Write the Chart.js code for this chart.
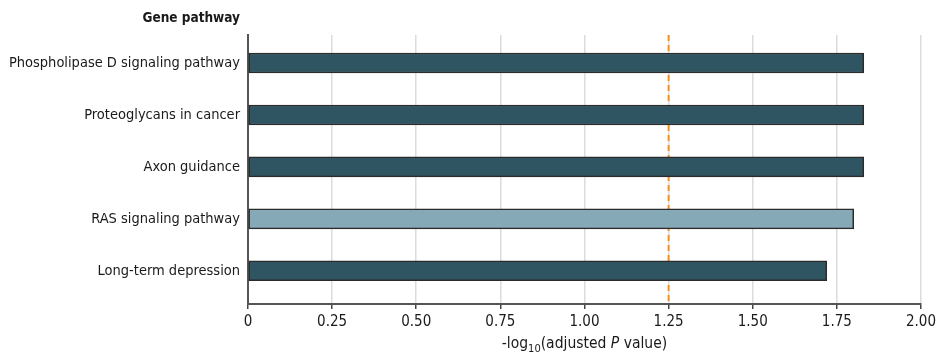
<!DOCTYPE html>
<html>
<head>
<meta charset="utf-8">
<script src="https://cdn.jsdelivr.net/npm/chart.js@4/dist/chart.umd.min.js"></script>
<style>
  html, body { margin: 0; padding: 0; background: #fff; }
  #wrap { width: 940px; height: 357px; position: relative; }
</style>
</head>
<body>
<div id="wrap"><canvas id="chart"></canvas></div>
<script>
// pathways, top to bottom
const pathways = [
    'Phospholipase D signaling pathway',
    'Proteoglycans in cancer',
    'Axon guidance',
    'RAS signaling pathway',
    'Long-term depression'
];
const negLogP = [1.83, 1.83, 1.83, 1.80, 1.72];
const highlighted = [false, false, false, true, false];
const xTicks = [0, 0.25, 0.5, 0.75, 1.0, 1.25, 1.5, 1.75, 2.0];
const threshold = 1.25;   // significance cutoff, dashed line

const FONT = "'Liberation Sans Narrow', 'DejaVu Sans Condensed', 'Liberation Sans', sans-serif";
const DARK = '#2f5462';
const LIGHT = '#86a9b8';

// "Gene pathway" header, right aligned with the category labels
const headerPlugin = {
    id: 'header',
    afterDraw(chart) {
        const { ctx } = chart;
        const y = chart.scales.y;
        ctx.save();
        ctx.font = `bold 13.5px ${FONT}`;
        ctx.fillStyle = '#1a1a1a';
        ctx.textAlign = 'right';
        ctx.textBaseline = 'middle';
        ctx.fillText('Gene pathway', y.right - 8, 18);
        ctx.restore();
    }
};

// dashed threshold line
const thresholdPlugin = {
    id: 'threshold',
    beforeDatasetsDraw(chart) {
        const { ctx, chartArea } = chart;
        const px = chart.scales.x.getPixelForValue(threshold);
        ctx.save();
        ctx.strokeStyle = '#f5921e';
        ctx.lineWidth = 2;
        ctx.setLineDash([6, 4]);
        ctx.beginPath();
        ctx.moveTo(px, chartArea.top);
        ctx.lineTo(px, chartArea.bottom);
        ctx.stroke();
        ctx.restore();
    }
};

// x axis title with subscript and italic P
const xTitlePlugin = {
    id: 'xTitle',
    afterDraw(chart) {
        const { ctx } = chart;
        const x = chart.scales.x;
        const parts = [
            { t: '-log', f: `15.5px ${FONT}`, dy: 0 },
            { t: '10', f: `11px ${FONT}`, dy: 4 },
            { t: '(adjusted ', f: `15.5px ${FONT}`, dy: 0 },
            { t: 'P', f: `italic 15.5px ${FONT}`, dy: 0 },
            { t: ' value)', f: `15.5px ${FONT}`, dy: 0 }
        ];
        ctx.save();
        let total = 0;
        parts.forEach(p => { ctx.font = p.f; total += ctx.measureText(p.t).width; });
        let cx = (x.left + x.right) / 2 - total / 2;
        const baseY = 348;
        ctx.fillStyle = '#1a1a1a';
        ctx.textBaseline = 'alphabetic';
        parts.forEach(p => {
            ctx.font = p.f;
            ctx.fillText(p.t, cx, baseY + p.dy);
            cx += ctx.measureText(p.t).width;
        });
        ctx.restore();
    }
};

new Chart(document.getElementById('chart'), {
    type: 'bar',
    data: {
        datasets: [{
            data: negLogP.map((v, i) => ({ x: v, y: i })),
            backgroundColor: highlighted.map(h => h ? LIGHT : DARK),
            borderColor: '#2b2b2b',
            borderWidth: 1.5,
            borderSkipped: false,
            barThickness: 20
        }]
    },
    options: {
        indexAxis: 'y',
        responsive: true,
        maintainAspectRatio: false,
        animation: false,
        layout: { padding: { top: 35, right: 18, left: 0, bottom: 0 } },
        plugins: {
            legend: { display: false },
            tooltip: { enabled: false }
        },
        scales: {
            x: {
                type: 'linear',
                min: 0,
                max: 2,
                afterBuildTicks: s => { s.ticks = xTicks.map(v => ({ value: v })); },
                afterFit: s => { s.height = 53; },
                ticks: {
                    color: '#1a1a1a',
                    font: { family: FONT, size: 15 },
                    padding: 4,
                    maxRotation: 0,
                    callback: v => v === 0 ? '0' : v.toFixed(2)
                },
                grid: {
                    color: '#dcdcdc',
                    lineWidth: 1.5,
                    tickColor: '#444',
                    tickLength: 5
                },
                border: { display: true, color: '#555', width: 2 }
            },
            y: {
                type: 'linear',
                bounds: 'data',
                offset: false,
                reverse: true,
                min: -0.54,
                max: 4.64,
                afterBuildTicks: s => { s.ticks = pathways.map((_, i) => ({ value: i })); },
                afterFit: s => { s.width = 248; },
                ticks: {
                    color: '#1a1a1a',
                    font: { family: FONT, size: 14.5 },
                    padding: 8,
                    callback: v => pathways[v]
                },
                grid: { display: false, drawTicks: false, offset: false },
                border: { display: true, color: '#555', width: 2 }
            }
        }
    },
    plugins: [headerPlugin, thresholdPlugin, xTitlePlugin]
});
</script>
</body>
</html>
